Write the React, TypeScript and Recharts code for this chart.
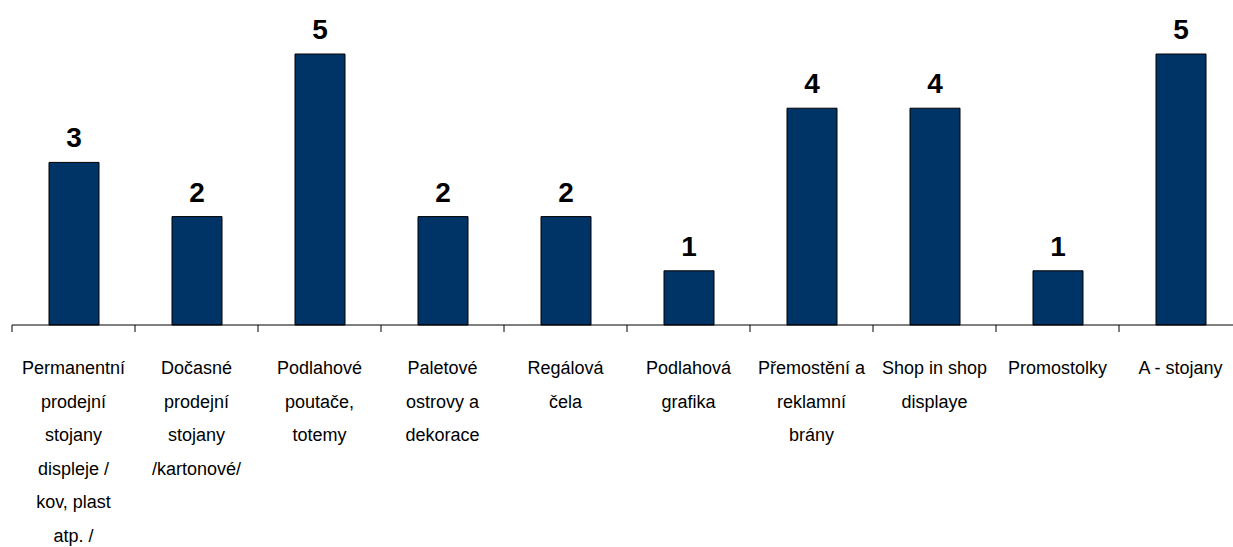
import { BarChart, Bar, XAxis, YAxis, LabelList } from "recharts";

// categories, line breaks as in the source chart
const categories = [
  "Permanentní\nprodejní\nstojany\ndispleje /\nkov, plast\natp. /",
  "Dočasné\nprodejní\nstojany\n/kartonové/",
  "Podlahové\npoutače,\ntotemy",
  "Paletové\nostrovy a\ndekorace",
  "Regálová\nčela",
  "Podlahová\ngrafika",
  "Přemostění a\nreklamní\nbrány",
  "Shop in shop\ndisplaye",
  "Promostolky",
  "A - stojany",
];
const counts = [3, 2, 5, 2, 2, 1, 4, 4, 1, 5];

const data = categories.map((name, i) => ({ name, value: counts[i] }));

const CHART_W = 1250;
const CHART_H = 547;
const MARGIN = { top: 54, right: 8, bottom: 0, left: 12 };
const BAND = (CHART_W - MARGIN.left - MARGIN.right) / categories.length;
const FONT = "'Liberation Sans', Arial, sans-serif";

function CategoryTick(props: any) {
  const { x, y, payload } = props;
  const lines = String(payload.value).split("\n");
  const left = x - BAND / 2;
  return (
    <g>
      <line x1={left} y1={y} x2={left} y2={y + 7} stroke="#000" strokeWidth={1} />
      <text textAnchor="middle" fontSize={18} fontFamily={FONT} fill="#000">
        {lines.map((ln, i) => (
          <tspan key={i} x={x} y={y + 49 + i * 33.5}>
            {ln}
          </tspan>
        ))}
      </text>
    </g>
  );
}

export default function App() {
  return (
    <div
      style={{
        position: "fixed",
        left: 0,
        top: 0,
        width: 1233,
        height: 547,
        overflow: "hidden",
        background: "#fff",
      }}
    >
      <BarChart width={CHART_W} height={CHART_H} data={data} margin={MARGIN}>
        <XAxis
          dataKey="name"
          interval={0}
          height={CHART_H - 325}
          tickSize={0}
          tickMargin={0}
          tickLine={false}
          axisLine={{ stroke: "#000", strokeWidth: 1 }}
          tick={<CategoryTick />}
        />
        <YAxis hide domain={[0, 5]} />
        <Bar
          dataKey="value"
          fill="#003366"
          stroke="#000"
          strokeWidth={1}
          barSize={50}
          isAnimationActive={false}
        >
          <LabelList
            dataKey="value"
            position="top"
            offset={15}
            fill="#000"
            fontSize={28}
            fontWeight={700}
            fontFamily={FONT}
          />
        </Bar>
      </BarChart>
    </div>
  );
}
